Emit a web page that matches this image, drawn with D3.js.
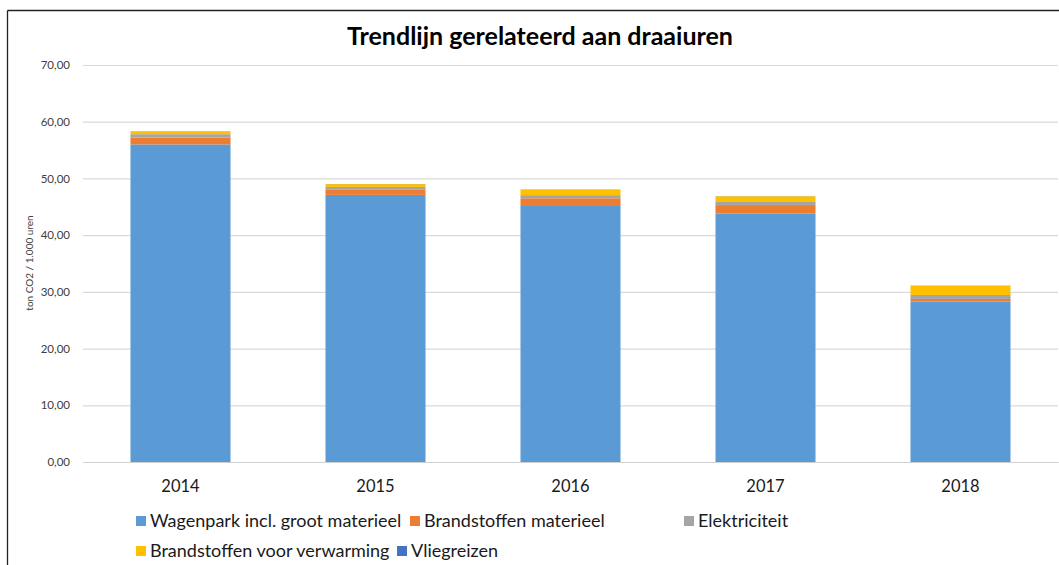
<!DOCTYPE html>
<html><head><meta charset="utf-8">
<script src="https://cdn.jsdelivr.net/npm/d3@7"></script>
<style>
html,body{margin:0;padding:0;background:#fff;}
svg{display:block;font-family:Lato,"Open Sans",sans-serif;}
</style></head>
<body><svg id="c" width="1059" height="565"></svg>
<script>
const years = ["2014","2015","2016","2017","2018"];
const seriesNames = ["Wagenpark incl. groot materieel","Brandstoffen materieel","Elektriciteit","Brandstoffen voor verwarming","Vliegreizen"];
const seriesColors = ["#5B9BD5","#ED7D31","#A5A5A5","#FFC000","#4472C4"];
const wagenpark = [56.0, 47.1, 45.3, 43.8, 28.3];
const brandstoffenMat = [1.2, 0.9, 1.2, 1.5, 0.45];
const elektriciteit = [0.6, 0.5, 0.55, 0.55, 0.7];
const verwarming = [0.5, 0.5, 1.0, 1.0, 1.65];
const vliegreizen = [0.02, 0.02, 0.02, 0.02, 0.02];
const yTicks = [0,10,20,30,40,50,60,70];

const seriesValues = [wagenpark, brandstoffenMat, elektriciteit, verwarming, vliegreizen];
const rows = years.map((y,i)=>{const r={year:y}; seriesNames.forEach((s,k)=>r[s]=seriesValues[k][i]); return r;});
const stacked = d3.stack().keys(seriesNames)(rows);

const svg = d3.select("#c");
const m = {l:83, r:1058, t:65, b:462};
const x = d3.scaleBand().domain(years).range([m.l, m.r]).paddingInner(0.487).paddingOuter(0.2435);
const y = d3.scaleLinear().domain([0,70]).range([m.b, m.t]);

// frame
svg.append("line").attr("x1",7.5).attr("x2",1059).attr("y1",10.5).attr("y2",10.5).attr("stroke","#222").attr("stroke-width",1.3);
svg.append("line").attr("x1",7.5).attr("x2",7.5).attr("y1",10.5).attr("y2",565).attr("stroke","#222").attr("stroke-width",1.3);

// title
svg.append("text").attr("x",540).attr("y",45).attr("text-anchor","middle")
  .attr("font-size",25).attr("font-weight","bold").attr("fill","#000").text("Trendlijn gerelateerd aan draaiuren");

// grid
const yAxis = d3.axisLeft(y).tickValues(yTicks).tickSize(-(m.r-m.l)).tickFormat(d=>d3.format(".2f")(d).replace(".",","));
const ga = svg.append("g").attr("transform",`translate(${m.l},0)`).call(yAxis);
ga.select(".domain").remove();
ga.selectAll(".tick line").attr("stroke","#d9d9d9").attr("stroke-width",1.2);
ga.selectAll(".tick text").attr("x",-13).attr("font-size",11.5).attr("fill","#404040").attr("font-family","Lato,sans-serif");

// bars
svg.append("g").selectAll("g").data(stacked).join("g").attr("fill",(d,i)=>seriesColors[i])
  .selectAll("rect").data(d=>d).join("rect")
  .attr("x",d=>x(d.data.year)).attr("width",x.bandwidth())
  .attr("y",d=>y(d[1])).attr("height",d=>Math.max(0,y(d[0])-y(d[1])));

// x axis
const xAxis = d3.axisBottom(x).tickSize(0).tickPadding(18);
const gx = svg.append("g").attr("transform",`translate(0,${m.b})`).call(xAxis);
gx.select(".domain").attr("stroke","#d0d0d0").attr("stroke-width",1.2);
gx.selectAll(".tick text").attr("font-size",16.5).attr("fill","#1a1a1a").attr("font-family","Lato,sans-serif");

// y title
svg.append("text").attr("transform","translate(33,263) rotate(-90)").attr("text-anchor","middle")
  .attr("font-size",10).attr("fill","#404040").text("ton CO2 / 1.000 uren");

// legend
const legendPos = [[136,521],[410,521],[684,521],[136,551],[397,551]];
const lg = svg.append("g").selectAll("g").data(seriesNames).join("g")
  .attr("transform",(d,i)=>`translate(${legendPos[i][0]},${legendPos[i][1]})`);
lg.append("rect").attr("x",0).attr("y",-5).attr("width",10).attr("height",10).attr("fill",(d,i)=>seriesColors[i]);
lg.append("text").attr("x",14).attr("y",6).attr("font-size",18).attr("fill","#1a1a1a").text(d=>d);
</script></body></html>
